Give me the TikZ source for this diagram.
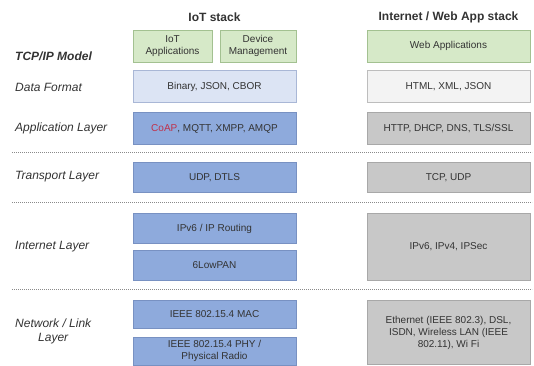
\documentclass[tikz,border=0pt]{standalone}
\usepackage{fontspec}
\setmainfont{Liberation Sans}
\definecolor{textgray}{HTML}{333333}
\definecolor{greenfill}{HTML}{D6E9C8}
\definecolor{greenline}{HTML}{A3C191}
\definecolor{paleblue}{HTML}{DCE4F4}
\definecolor{palebluel}{HTML}{A9B7D6}
\definecolor{midblue}{HTML}{8EAADC}
\definecolor{midbluel}{HTML}{7891C2}
\definecolor{palegray}{HTML}{F3F3F3}
\definecolor{palegrayl}{HTML}{BDBDBD}
\definecolor{midgray}{HTML}{C8C8C8}
\definecolor{midgrayl}{HTML}{A8A8A8}
\definecolor{coapred}{HTML}{C0304A}
\definecolor{sepgray}{HTML}{8A8A8A}

\tikzset{
    layerbox/.style={thin, inner sep=1pt, align=center, text=textgray,
        font=\fontsize{10}{12}\selectfont, minimum width=163pt, minimum height=32pt},
    greenbox/.style={layerbox, fill=greenfill, draw=greenline},
    lightbox/.style={layerbox, fill=paleblue, draw=palebluel},
    bluebox/.style={layerbox, fill=midblue, draw=midbluel},
    whitebox/.style={layerbox, fill=palegray, draw=palegrayl},
    graybox/.style={layerbox, fill=midgray, draw=midgrayl},
    headtext/.style={font=\fontsize{12}{14}\selectfont\bfseries, text=textgray},
    rowlabel/.style={anchor=west, align=center, text=textgray, inner sep=0pt,
        font=\fontsize{12}{14}\selectfont\itshape},
    sepline/.style={sepgray, thin, dash pattern=on 1.2pt off 0.8pt}
}

\begin{document}
\begin{tikzpicture}[x=1pt, y=-1pt]
    \useasboundingbox (0,0) rectangle (534,365);

    % column headings
    \node[headtext] (iothead) at (214.5, 17) {IoT stack};
    \node[headtext] (webhead) at (448.5, 17) {Internet / Web App stack};

    % model row
    \node[rowlabel, font=\fontsize{12}{14}\selectfont\bfseries\itshape] (modellbl) at (15, 56) {TCP/IP Model};
    \node[greenbox, minimum width=79pt] (iotapps) at (172.5, 46) {IoT\\Applications};
    \node[greenbox, minimum width=76pt] (devmgmt) at (258, 46) {Device\\Management};
    \node[greenbox] (webapps) at (448.5, 46) {Web Applications};

    % data format
    \node[rowlabel] (datalbl) at (15, 87) {Data Format};
    \node[lightbox] (iotdata) at (214.5, 86.5) {Binary, JSON, CBOR};
    \node[whitebox] (webdata) at (448.5, 86.5) {HTML, XML, JSON};

    % application layer
    \node[rowlabel] (applbl) at (15, 128) {Application Layer};
    \node[bluebox] (iotappl) at (214.5, 128.5) {\textcolor{coapred}{CoAP}, MQTT, XMPP, AMQP};
    \node[graybox] (webappl) at (448.5, 128.5) {HTTP, DHCP, DNS, TLS/SSL};

    \coordinate (sepa) at (12, 152);
    \coordinate (sepb) at (532, 152);
    \draw[sepline] (sepa) -- (sepb);

    % transport layer
    \node[rowlabel] (translbl) at (15, 177) {Transport Layer};
    \node[bluebox, minimum height=30pt] (iottrans) at (214.5, 177.5) {UDP, DTLS};
    \node[graybox, minimum height=30pt] (webtrans) at (448.5, 177.5) {TCP, UDP};

    \coordinate (sepc) at (12, 202);
    \coordinate (sepd) at (532, 202);
    \draw[sepline] (sepc) -- (sepd);

    % internet layer
    \node[rowlabel] (netlbl) at (15, 247) {Internet Layer};
    \node[bluebox, minimum height=30pt] (iotroute) at (214.5, 228.5) {IPv6 / IP Routing};
    \node[bluebox, minimum height=30pt] (iotlowpan) at (214.5, 265.5) {6LowPAN};
    \node[graybox, minimum height=67pt] (webip) at (448.5, 247) {IPv6, IPv4, IPSec};

    \coordinate (sepe) at (12, 289);
    \coordinate (sepf) at (532, 289);
    \draw[sepline] (sepe) -- (sepf);

    % network / link layer
    \node[rowlabel] (linklbl) at (15, 331) {Network / Link\\Layer};
    \node[bluebox, minimum height=28pt] (iotmac) at (214.5, 314.5) {IEEE 802.15.4 MAC};
    \node[bluebox, minimum height=28pt] (iotphy) at (214.5, 351) {IEEE 802.15.4 PHY /\\Physical Radio};
    \node[graybox, minimum height=64pt] (weblink) at (448.5, 332.5) {Ethernet (IEEE 802.3), DSL,\\ISDN, Wireless LAN (IEEE\\802.11), Wi Fi};
\end{tikzpicture}
\end{document}
